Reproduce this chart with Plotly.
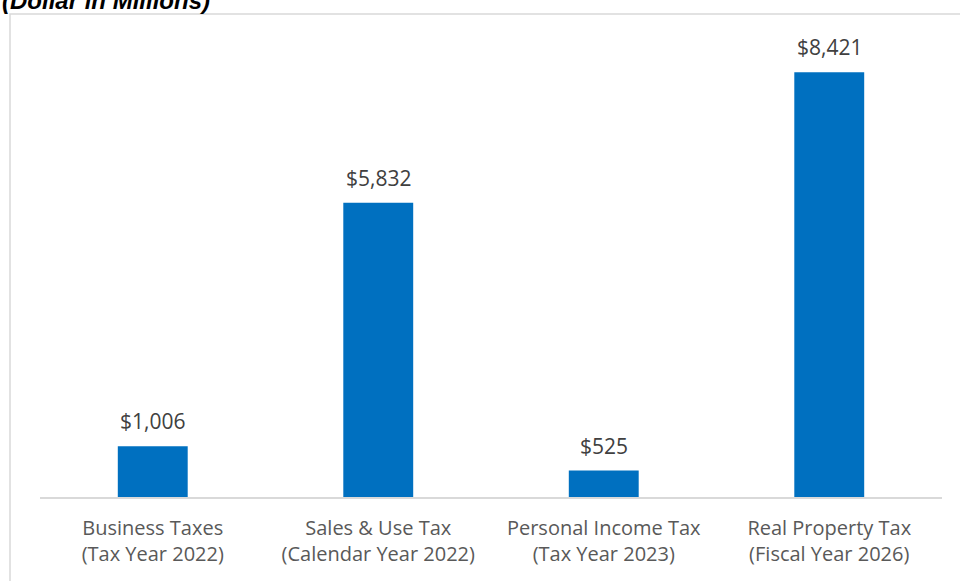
import plotly.graph_objects as go

categories = ["Business Taxes<br>(Tax Year 2022)", "Sales & Use Tax<br>(Calendar Year 2022)",
              "Personal Income Tax<br>(Tax Year 2023)", "Real Property Tax<br>(Fiscal Year 2026)"]
values = [1006, 5832, 525, 8421]
labels = ["$1,006", "$5,832", "$525", "$8,421"]

FONT = "Open Sans"
GREY = "#595959"

fig = go.Figure()
fig.add_trace(go.Bar(x=categories, y=values, marker=dict(color="#0070C0", line=dict(width=0)),
                     width=0.31, hoverinfo="skip"))

for c, v, t in zip(categories, values, labels):
    fig.add_annotation(x=c, y=v, text=t, showarrow=False, yanchor="middle", yshift=25,
                       font=dict(family=FONT, size=21, color="#404040"))

L, R, T, B = 40, 18, 43, 84
W, H = 960, 581
pw, ph = W - L - R, H - T - B

# outer chart border (light grey)
fig.add_shape(type="rect", xref="paper", yref="paper",
              x0=(10 - L) / pw, x1=1.2, y0=-0.5, y1=1 + (T - 14) / ph,
              line=dict(color="#D9D9D9", width=1.5), fillcolor="rgba(0,0,0,0)", layer="below")

fig.add_annotation(xref="paper", yref="paper", x=(0 - L) / pw, y=1 + (T - 1) / ph,
                   xanchor="left", yanchor="middle", showarrow=False,
                   text="<b><i>(Dollar in Millions)</i></b>",
                   font=dict(family="Liberation Sans", size=24, color="#000000"))

fig.update_layout(
    width=W, height=H, margin=dict(l=L, r=R, t=T, b=B),
    plot_bgcolor="white", paper_bgcolor="white", showlegend=False,
    xaxis=dict(showline=True, linecolor="#D9D9D9", linewidth=1.5, ticks="", ticklabelstandoff=12,
               tickfont=dict(family=FONT, size=20, color=GREY), showgrid=False, zeroline=False),
    yaxis=dict(range=[0, 9000], visible=False, showgrid=False, zeroline=False),
)

fig.write_html("out.html")
